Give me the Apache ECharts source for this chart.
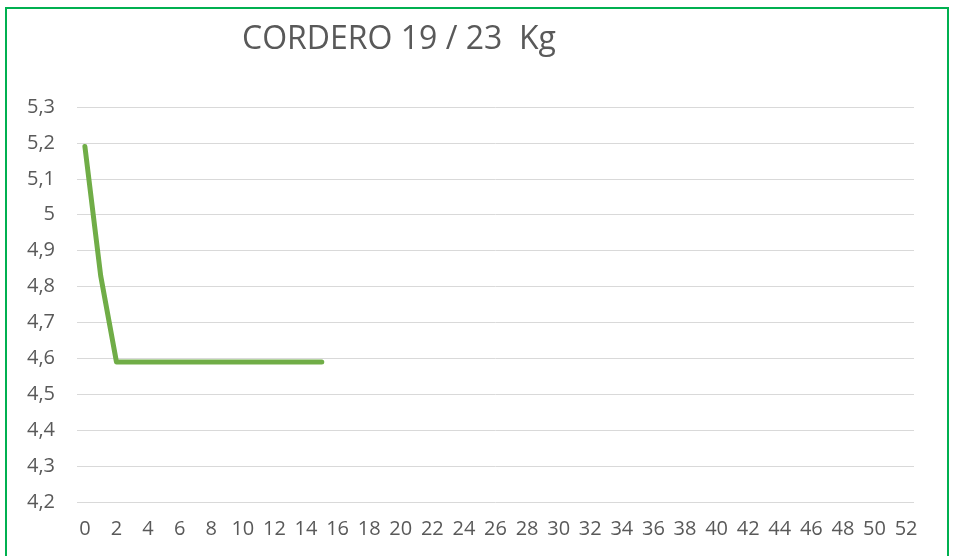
<!DOCTYPE html>
<html>
<head>
<meta charset="utf-8">
<script src="https://cdn.jsdelivr.net/npm/echarts@6/dist/echarts.min.js"></script>
<style>
html,body{margin:0;padding:0;background:#fff;overflow:hidden;}
#frame{position:absolute;left:5px;top:7px;width:944px;height:560px;border:2px solid #00B050;box-sizing:border-box;}
#chart{position:absolute;left:0;top:0;width:955px;height:556px;}
</style>
</head>
<body>
<div id="chart"></div>
<div id="frame"></div>
<script>
const titleText = "CORDERO 19 / 23  Kg";
const weeks = [];
for (let i = 0; i <= 52; i++) weeks.push(String(i));
const values = [5.19, 4.83, 4.59, 4.59, 4.59, 4.59, 4.59, 4.59, 4.59, 4.59, 4.59, 4.59, 4.59, 4.59, 4.59, 4.59];
const yMin = 4.2, yMax = 5.3, yStep = 0.1;

const chart = echarts.init(document.getElementById('chart'), null, {renderer: 'canvas'});
chart.setOption({
  animation: false,
  backgroundColor: '#fff',
  title: {
    text: titleText,
    left: 394, top: 19, textAlign: 'center',
    textStyle: {fontFamily: 'Open Sans', fontWeight: 'normal', fontSize: 32, color: '#595959'}
  },
  grid: {left: 77, right: 41, top: 107, bottom: 54, containLabel: false},
  xAxis: {
    type: 'category', data: weeks, boundaryGap: true,
    axisLine: {show: false}, axisTick: {show: false},
    axisLabel: {interval: 1, margin: 17, color: '#595959', fontFamily: 'Open Sans', fontSize: 20}
  },
  yAxis: {
    type: 'value', min: yMin, max: yMax, interval: yStep,
    axisLine: {show: false}, axisTick: {show: false},
    axisLabel: {margin: 22, color: '#595959', fontFamily: 'Open Sans', fontSize: 20,
      formatter: v => String(Number(v.toFixed(1))).replace('.', ',')},
    splitLine: {lineStyle: {color: '#d9d9d9', width: 1}}
  },
  series: [{
    type: 'line', data: values, showSymbol: false, symbol: 'none',
    lineStyle: {color: '#70AD47', width: 5, cap: 'round', join: 'round'}
  }]
});
</script>
</body>
</html>
